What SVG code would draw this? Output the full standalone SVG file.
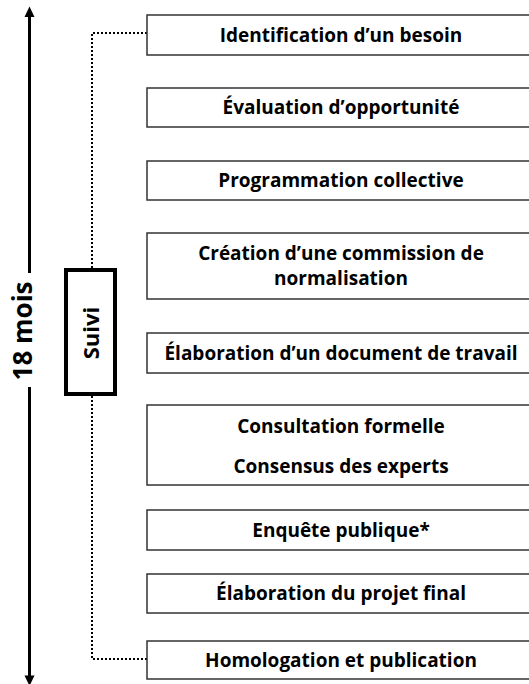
<svg xmlns="http://www.w3.org/2000/svg" width="529" height="684" viewBox="0 0 529 684">
<style>
.box{fill:#fff;stroke:#333;stroke-width:1.5}
.lbl{font-family:"Open Sans","Noto Sans",sans-serif;font-weight:700;font-size:19px;fill:#000;text-anchor:middle}
.dot{fill:none;stroke:#000;stroke-width:2;stroke-dasharray:2 2}
</style>
<rect width="529" height="684" fill="#fff"/>
<g id="connectors">
  <line x1="29.5" y1="15" x2="29.5" y2="273" stroke="#000" stroke-width="3"/>
  <line x1="29.5" y1="387" x2="29.5" y2="677" stroke="#000" stroke-width="3"/>
  <polygon points="29.5,6.5 24.5,17 34.5,17" fill="#000"/>
  <polygon points="29.5,686 24.5,675.5 34.5,675.5" fill="#000"/>
  <polyline class="dot" points="147,33 92,33 92,268"/>
  <polyline class="dot" points="92,396 92,659 147,659"/>
</g>
<g id="duree">
  <text class="lbl" style="font-size:26px" transform="translate(32,331) rotate(-90)">18 mois</text>
</g>
<g id="suivi">
  <rect x="66" y="270" width="49" height="124" fill="#fff" stroke="#000" stroke-width="4"/>
  <text class="lbl" style="font-size:22px" transform="translate(99,333) rotate(-90)">Suivi</text>
</g>
<g id="n1"><rect class="box" x="147" y="15" width="390" height="40"/><text class="lbl" x="341" y="41.5">Identification d’un besoin</text></g>
<g id="n2"><rect class="box" x="147" y="88" width="390" height="39"/><text class="lbl" x="341" y="114">Évaluation d’opportunité</text></g>
<g id="n3"><rect class="box" x="147" y="161" width="390" height="39"/><text class="lbl" x="341" y="187">Programmation collective</text></g>
<g id="n4"><rect class="box" x="147" y="233" width="390" height="66"/><text class="lbl" x="341" y="259.5">Création d’une commission de</text><text class="lbl" x="341" y="285">normalisation</text></g>
<g id="n5"><rect class="box" x="147" y="333" width="390" height="40"/><text class="lbl" x="341" y="359.5">Élaboration d’un document de travail</text></g>
<g id="n6"><rect class="box" x="147" y="405" width="390" height="80"/><text class="lbl" x="341" y="432.5">Consultation formelle</text><text class="lbl" x="341" y="472.5">Consensus des experts</text></g>
<g id="n7"><rect class="box" x="147" y="510" width="390" height="40"/><text class="lbl" x="341" y="536.5">Enquête publique*</text></g>
<g id="n8"><rect class="box" x="147" y="574" width="390" height="39"/><text class="lbl" x="341" y="600">Élaboration du projet final</text></g>
<g id="n9"><rect class="box" x="147" y="641" width="390" height="38"/><text class="lbl" x="341" y="666.5">Homologation et publication</text></g>
</svg>
